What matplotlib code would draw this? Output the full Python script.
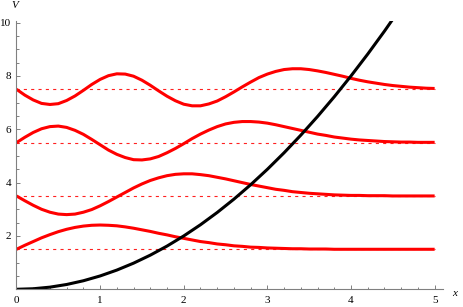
import matplotlib
matplotlib.use('Agg')
import matplotlib.pyplot as plt

# sample positions (shared by all curves)
x = [round(0.1 * i, 1) for i in range(51)]

# potential V(x) (clipped at the top of the frame)
potential = [0.0, 0.01, 0.02, 0.05, 0.08, 0.13, 0.18, 0.25, 0.32, 0.41,
             0.5, 0.61, 0.72, 0.85, 0.98, 1.13, 1.28, 1.45, 1.62, 1.81,
             2.0, 2.21, 2.42, 2.65, 2.88, 3.13, 3.38, 3.65, 3.92, 4.21,
             4.5, 4.81, 5.12, 5.45, 5.78, 6.13, 6.48, 6.85, 7.22, 7.61,
             8.0, 8.41, 8.82, 9.25, 9.68, 10.13]

levels = [1.5, 3.5, 5.5, 7.5]

wave1 = [1.50, 1.65, 1.79, 1.93, 2.05, 2.16, 2.25, 2.32, 2.37, 2.40,
         2.41, 2.40, 2.38, 2.34, 2.29, 2.23, 2.17, 2.10, 2.04, 1.97,
         1.91, 1.85, 1.79, 1.75, 1.70, 1.67, 1.63, 1.61, 1.58, 1.57,
         1.55, 1.54, 1.53, 1.52, 1.52, 1.51, 1.51, 1.51, 1.50, 1.50,
         1.50, 1.50, 1.50, 1.50, 1.50, 1.50, 1.50, 1.50, 1.50, 1.50, 1.50]

wave2 = [3.50, 3.32, 3.15, 3.00, 2.89, 2.82, 2.80, 2.82, 2.89, 2.99,
         3.13, 3.29, 3.46, 3.63, 3.80, 3.95, 4.08, 4.18, 4.26, 4.31,
         4.33, 4.33, 4.30, 4.26, 4.20, 4.14, 4.07, 4.00, 3.93, 3.87,
         3.81, 3.75, 3.71, 3.66, 3.63, 3.60, 3.58, 3.56, 3.54, 3.53,
         3.52, 3.52, 3.51, 3.51, 3.51, 3.50, 3.50, 3.50, 3.50, 3.50, 3.50]

wave3 = [5.50, 5.70, 5.88, 6.02, 6.10, 6.12, 6.07, 5.96, 5.81, 5.62,
         5.42, 5.22, 5.06, 4.94, 4.86, 4.85, 4.89, 4.98, 5.12, 5.28,
         5.46, 5.65, 5.82, 5.97, 6.10, 6.20, 6.26, 6.29, 6.29, 6.27,
         6.23, 6.17, 6.10, 6.03, 5.96, 5.89, 5.82, 5.77, 5.71, 5.67,
         5.63, 5.60, 5.58, 5.56, 5.54, 5.53, 5.52, 5.52, 5.51, 5.51, 5.51]

wave4 = [7.50, 7.28, 7.10, 6.97, 6.93, 6.96, 7.08, 7.25, 7.46, 7.68,
         7.87, 8.01, 8.08, 8.07, 7.99, 7.84, 7.65, 7.44, 7.24, 7.07,
         6.94, 6.88, 6.88, 6.95, 7.06, 7.22, 7.40, 7.59, 7.77, 7.94,
         8.07, 8.17, 8.24, 8.27, 8.27, 8.24, 8.19, 8.13, 8.06, 7.99,
         7.91, 7.84, 7.78, 7.73, 7.68, 7.64, 7.61, 7.58, 7.56, 7.54, 7.53]

waves = [wave1, wave2, wave3, wave4]

x_ticks = [0, 1, 2, 3, 4, 5]
y_ticks = [2, 4, 6, 8, 10]

plt.rcParams['font.family'] = ['Liberation Serif', 'DejaVu Serif']

fig = plt.figure(figsize=(4.63, 3.07), dpi=100)
ax = fig.add_axes([0.0356, 0.0577, 0.9212, 0.873])

for lvl in levels:
    ax.plot([x[0], x[-1]], [lvl, lvl], color='#ff2020', lw=0.8,
            dashes=(2.8, 3.8))
for w in waves:
    ax.plot(x, w, color='red', lw=2.2, solid_capstyle='butt')
ax.plot(x[:len(potential)], potential, color='black', lw=2.2,
        solid_capstyle='butt')

ax.set_xlim(0, 5.1)
ax.set_ylim(0, 10.05)

for s in ['top', 'right']:
    ax.spines[s].set_visible(False)
for s in ['left', 'bottom']:
    ax.spines[s].set_color('#808080')
    ax.spines[s].set_linewidth(0.8)

ax.set_xticks(x_ticks)
ax.set_xticklabels([str(t) for t in x_ticks])
ax.set_xticks([i * 0.2 for i in range(26)], minor=True)
ax.set_yticks(y_ticks)
ax.set_yticklabels([str(t) for t in y_ticks])
ax.set_yticks([i * 0.5 for i in range(21)], minor=True)

ax.tick_params(which='both', direction='in', color='#808080', width=0.7,
               labelsize=8)
ax.tick_params(axis='x', which='major', length=3.2, pad=5)
ax.tick_params(axis='y', which='major', length=3.2, pad=4)
ax.tick_params(which='minor', length=1.8)

ax.text(1.021, -0.015, 'x', transform=ax.transAxes, fontsize=8,
        style='italic', ha='left', va='center')
ax.text(-0.004, 1.057, 'V', transform=ax.transAxes, fontsize=8,
        style='italic', ha='center', va='center')

plt.savefig('out.png', dpi=100)
plt.close()
